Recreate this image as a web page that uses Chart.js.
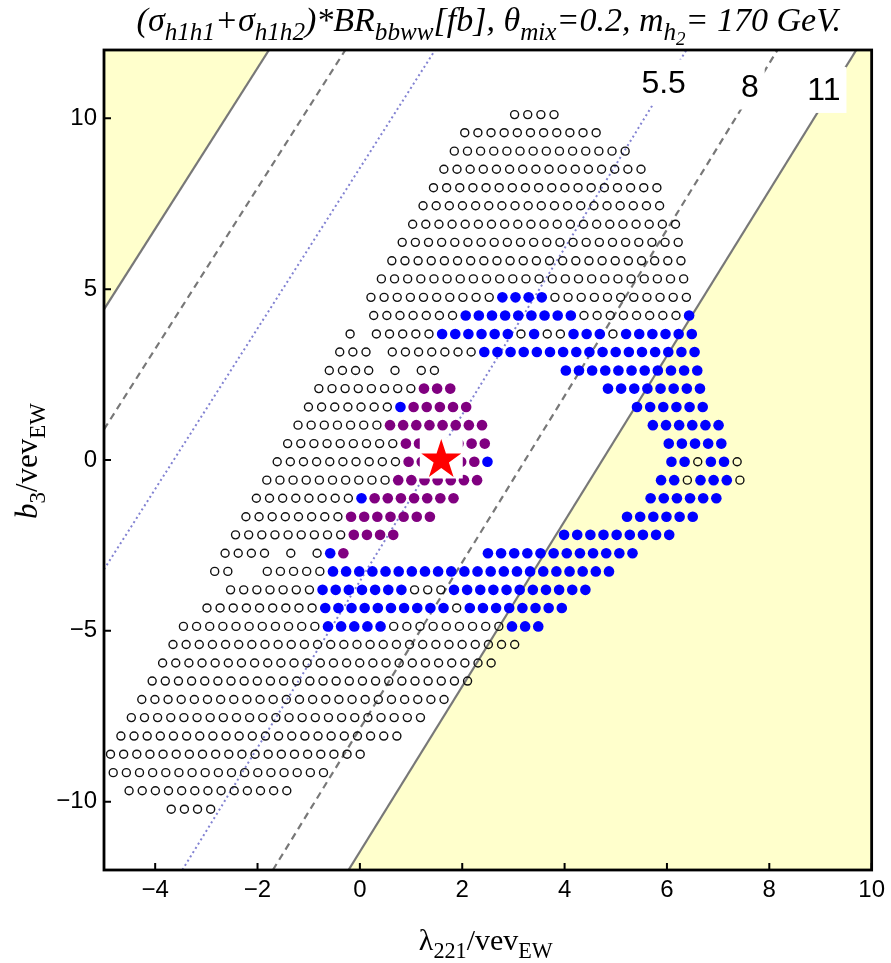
<!DOCTYPE html>
<html><head><meta charset="utf-8">
<script src="https://cdn.jsdelivr.net/npm/chart.js@4.4.1/dist/chart.umd.min.js"></script>
<style>html,body{margin:0;padding:0;background:#fff;}canvas{display:block;}</style>
</head><body>
<canvas id="c" width="891" height="963"></canvas>
<script>
// ---------------- data ----------------
const xRange = [-5, 10];
const yRange = [-12, 12];
const xTicks = [-4, -2, 0, 2, 4, 6, 8, 10];
const yTicks = [-10, -5, 0, 5, 10];

// scan grid: each row has a b3 value, the lambda of its first point and a
// run-length code of the markers along the row (o = open, b = blue, p = purple, _ = none)
const scanStepX = 0.2568;
const rowY = [10.11, 9.58, 9.04, 8.51, 7.97, 7.44, 6.90, 6.37, 5.83, 5.30, 4.76, 4.23, 3.69, 3.16, 2.62, 2.09, 1.55, 1.02, 0.48, -0.05,
  -0.59, -1.12, -1.66, -2.19, -2.73, -3.26, -3.80, -4.33, -4.87, -5.40, -5.94, -6.47, -7.01, -7.54, -8.08, -8.61, -9.15, -9.68, -10.22];
const rowX0 = [3.023, 2.049, 1.845, 1.641, 1.438, 1.234, 1.031, 0.827, 0.624, 0.420, 0.216, 0.270, -0.191, -0.394, -0.598, -0.802, -1.005, -1.209, -1.412, -1.616,
  -1.819, -2.023, -2.227, -2.430, -2.634, -2.837, -2.527, -2.988, -3.448, -3.652, -3.855, -4.059, -4.262, -4.466, -4.670, -4.873, -4.820, -4.510, -3.686];
const rowCode = [
  "4o", "11o", "14o", "16o", "18o", "19o", "21o", "22o", "23o", "24o",
  "10o4b11o", "7o9b8o1b", "1o1_5o6b1o1b2o3b1o6b", "3o1_7o17b", "4o1_1o1_2o9_11b",
  "8o3p11_8b", "7o1b5p12_6b", "7o8p12_6b", "9o7p13_5b", "10o6p1b13_2b1o2b1o",
  "10o7p13_2b1o3b1o", "8o1b7p14_6b", "8o7p14_6b", "9o4p12_9b", "4o1_1o1_1o1b1p10_12b",
  "2o2_5o22b", "7o7b3o11b", "9o10b1o8b", "11o5b9o3b", "27o",
  "26o", "25o", "24o", "23o", "22o", "20o", "17o", "13o", "4o"
];

// contour lines of the cross section (endpoints on the frame)
const contour11A = [{x: -5, y: 4.41}, {x: -1.776, y: 12}];
const contour11B = [{x: -0.222, y: -12}, {x: 9.70, y: 12}];
const contour8A  = [{x: -5, y: 0.896}, {x: -0.284, y: 12}];
const contour8B  = [{x: -1.70, y: -12}, {x: 8.16, y: 12}];
const contour55A = [{x: -5, y: -3.2}, {x: 1.47, y: 12}];
const contour55B = [{x: -3.47, y: -12}, {x: 6.38, y: 12}];
const contourLabels = [
  {t: '5.5', x: 5.936, y: 11.08},
  {t: '8',   x: 7.619, y: 10.96},
  {t: '11',  x: 9.066, y: 10.86}
];
const starPoint = {x: 1.59, y: 0.0};

// ---------------- build marker lists ----------------
const openPts = [], bluePts = [], purplePts = [];
rowCode.forEach((code, k) => {
  let j = 0;
  const re = /(\d+)([obp_])/g;
  let m;
  while ((m = re.exec(code)) !== null) {
    const n = parseInt(m[1], 10), c = m[2];
    for (let q = 0; q < n; q++, j++) {
      if (c === '_') continue;
      const p = {x: rowX0[k] + j * scanStepX, y: rowY[k]};
      if (c === 'o') openPts.push(p); else if (c === 'b') bluePts.push(p); else purplePts.push(p);
    }
  }
});

// ---------------- helpers ----------------
const SERIF = '"Liberation Serif", "DejaVu Serif", serif';
const SANS = '"Liberation Sans", Arial, sans-serif';
function segFont(level, style, size) {
  const s = level === 0 ? size : (level === 1 ? size * 0.74 : size * 0.56);
  return (style === 'i' ? 'italic ' : '') + s.toFixed(2) + 'px ' + SERIF;
}
function segDy(level, size) { return level === 0 ? 0 : (level === 1 ? size * 0.25 : size * 0.42); }
function richWidth(ctx, segs, size) {
  let w = 0;
  for (const s of segs) { ctx.font = segFont(s[1], s[2], size); w += ctx.measureText(s[0]).width; }
  return w;
}
function drawRich(ctx, segs, cx, baseline, size) {
  let xx = cx - richWidth(ctx, segs, size) / 2;
  ctx.textAlign = 'left'; ctx.textBaseline = 'alphabetic'; ctx.fillStyle = '#000';
  for (const s of segs) {
    ctx.font = segFont(s[1], s[2], size);
    ctx.fillText(s[0], xx, baseline + segDy(s[1], size));
    xx += ctx.measureText(s[0]).width;
  }
}
const titleSegs = [['(σ',0,'i'],['h1h1',1,'i'],['+σ',0,'i'],['h1h2',1,'i'],[')*BR',0,'i'],['bbww',1,'i'],
  ['[fb], θ',0,'i'],['mix',1,'i'],['=0.2, m',0,'i'],['h',1,'i'],['2',2,'i'],['= 170 GeV.',0,'i']];
const xTitleSegs = [['λ',0,'n'],['221',1,'n'],['/vev',0,'n'],['EW',1,'n']];
const yTitleSegs = [['b',0,'i'],['3',1,'n'],['/vev',0,'n'],['EW',1,'n']];

const fmt = v => (v < 0 ? '\u2212' + Math.abs(v) : String(v));

const deco = {
  id: 'deco',
  afterDatasetsDraw(chart) {
    const {ctx, scales: {x, y}} = chart;
    ctx.save();
    // star with white backing
    const cx = x.getPixelForValue(starPoint.x), cy = y.getPixelForValue(starPoint.y);
    const R = 21;
    ctx.fillStyle = '#fff';
    ctx.fillRect(cx - R - 0.5, cy - R - 1.5, 2 * R + 1, 1.809 * R + 3);
    ctx.beginPath();
    for (let i = 0; i < 10; i++) {
      const r = i % 2 ? R * 0.382 : R;
      const a = -Math.PI / 2 + i * Math.PI / 5;
      ctx.lineTo(cx + r * Math.cos(a), cy + r * Math.sin(a));
    }
    ctx.closePath();
    ctx.fillStyle = '#ff0000';
    ctx.fill();
    // contour labels
    ctx.font = '32px ' + SANS;
    for (const L of contourLabels) {
      const px = x.getPixelForValue(L.x), py = y.getPixelForValue(L.y);
      const w = ctx.measureText(L.t).width;
      ctx.fillStyle = '#fff';
      ctx.fillRect(px - w / 2 - 6, py - 22, w + 12, 46);
      ctx.fillStyle = '#000';
      ctx.textAlign = 'center'; ctx.textBaseline = 'alphabetic';
      ctx.fillText(L.t, px, py + 11.5);
    }
    ctx.restore();
  },
  afterDraw(chart) {
    const {ctx, chartArea: a, scales: {x, y}} = chart;
    ctx.save();
    ctx.strokeStyle = '#000';
    ctx.lineWidth = 2.8;
    ctx.strokeRect(a.left, a.top, a.right - a.left, a.bottom - a.top);
    ctx.lineWidth = 2;
    ctx.beginPath();
    for (const v of xTicks) {
      const px = x.getPixelForValue(v);
      ctx.moveTo(px, a.bottom); ctx.lineTo(px, a.bottom - 7);
    }
    for (const v of yTicks) {
      const py = y.getPixelForValue(v);
      ctx.moveTo(a.left, py); ctx.lineTo(a.left + 7, py);
    }
    ctx.stroke();
    // titles
    drawRich(ctx, titleSegs, (a.left + a.right) / 2 + 1, 31, 34);
    drawRich(ctx, xTitleSegs, (a.left + a.right) / 2 - 2, 950, 30);
    ctx.translate(37, (a.top + a.bottom) / 2 + 1);
    ctx.rotate(-Math.PI / 2);
    drawRich(ctx, yTitleSegs, 0, 0, 31);
    ctx.restore();
  }
};

const lineDs = (pts, color, dash, width, order) => ({
  data: pts, showLine: true, pointRadius: 0, borderColor: color, borderWidth: width,
  borderDash: dash, fill: false, order: order
});

new Chart(document.getElementById('c'), {
  type: 'scatter',
  data: {
    datasets: [
      {data: purplePts, pointRadius: 5.3, pointBackgroundColor: '#800080', pointBorderWidth: 0, order: 0},
      {data: bluePts, pointRadius: 5.3, pointBackgroundColor: '#0000ff', pointBorderWidth: 0, order: 1},
      {data: openPts, pointRadius: 4, pointBackgroundColor: 'rgba(0,0,0,0)', pointBorderColor: '#111', pointBorderWidth: 1.4, order: 2},
      lineDs(contour55A, 'rgb(130,130,210)', [2, 3], 2, 5),
      lineDs(contour55B, 'rgb(130,130,210)', [2, 3], 2, 5),
      lineDs(contour8A, 'rgb(120,120,120)', [7, 5], 2.2, 5),
      lineDs(contour8B, 'rgb(120,120,120)', [7, 5], 2.2, 5),
      lineDs(contour11A, 'rgb(120,120,120)', [], 2.2, 5),
      lineDs(contour11B, 'rgb(120,120,120)', [], 2.2, 5),
      {data: contour11A, showLine: true, pointRadius: 0, borderWidth: 0, borderColor: 'rgba(0,0,0,0)',
       backgroundColor: 'rgb(255,255,204)', fill: 'end', order: 10},
      {data: contour11B.concat([{x: xRange[1], y: yRange[1]}]), showLine: true, pointRadius: 0, borderWidth: 0,
       borderColor: 'rgba(0,0,0,0)', backgroundColor: 'rgb(255,255,204)', fill: 'start', order: 10}
    ]
  },
  options: {
    responsive: false, animation: false, devicePixelRatio: 1, events: [],
    layout: {padding: {left: 0, right: 17, top: 50, bottom: 0}},
    plugins: {legend: {display: false}, tooltip: {enabled: false}, title: {display: false}},
    scales: {
      x: {
        type: 'linear', min: xRange[0], max: xRange[1], position: 'bottom',
        grid: {display: false, drawTicks: false}, border: {display: false},
        ticks: {font: {family: SANS, size: 24}, color: '#000', padding: 6, callback: fmt, maxRotation: 0},
        afterBuildTicks: s => { s.ticks = xTicks.map(v => ({value: v})); },
        afterFit: s => { s.height = 93; }
      },
      y: {
        type: 'linear', min: yRange[0], max: yRange[1],
        grid: {display: false, drawTicks: false}, border: {display: false},
        ticks: {font: {family: SANS, size: 24}, color: '#000', padding: 7, callback: fmt},
        afterBuildTicks: s => { s.ticks = yTicks.map(v => ({value: v})); },
        afterFit: s => { s.width = 104; }
      }
    }
  },
  plugins: [deco]
});
</script>
</body></html>
